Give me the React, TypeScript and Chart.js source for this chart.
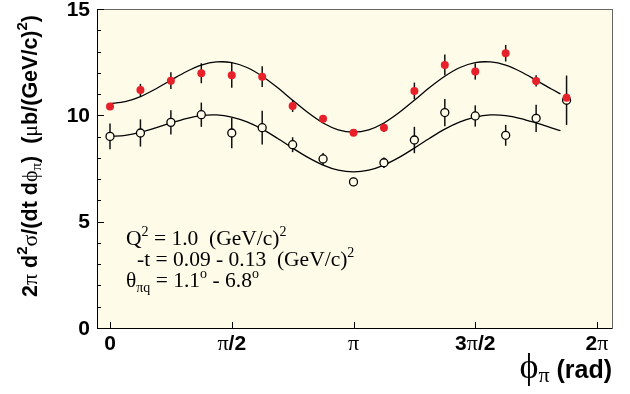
import React, { useEffect, useRef } from "react";
import { Chart, registerables } from "chart.js";

Chart.register(...registerables);

// phi in units of pi
const phiOverPi = [0, 0.125, 0.25, 0.375, 0.5, 0.625, 0.75, 0.875, 1, 1.125, 1.25, 1.375, 1.5, 1.625, 1.75, 1.875];
const redValues = [10.41, 11.19, 11.63, 11.98, 11.89, 11.82, 10.44, 9.84, 9.18, 9.42, 11.15, 12.37, 12.06, 12.92, 11.62, 10.83];
const redErrors = [0.15, 0.29, 0.39, 0.47, 0.59, 0.49, 0.28, 0.15, 0.15, 0.2, 0.39, 0.49, 0.38, 0.39, 0.27, 0.2];
const openValues = [9.01, 9.17, 9.67, 10.03, 9.17, 9.42, 8.62, 7.95, 6.87, 7.77, 8.84, 10.13, 9.97, 9.06, 9.86, 10.71];
const openErrors = [0.61, 0.64, 0.57, 0.57, 0.72, 0.79, 0.35, 0.28, 0.2, 0.25, 0.62, 0.64, 0.5, 0.49, 0.64, 1.16];

const curvePhiOverPi = [0, 0.0625, 0.125, 0.1875, 0.25, 0.3125, 0.375, 0.4375, 0.5, 0.5625, 0.625, 0.6875, 0.75, 0.8125, 0.875, 0.9375, 1, 1.0625, 1.125, 1.1875, 1.25, 1.3125, 1.375, 1.4375, 1.5, 1.5625, 1.625, 1.6875, 1.75, 1.8125, 1.85];
const upperFit = [10.55, 10.64, 10.88, 11.24, 11.65, 12.05, 12.36, 12.51, 12.48, 12.25, 11.84, 11.31, 10.71, 10.13, 9.64, 9.32, 9.21, 9.32, 9.64, 10.13, 10.71, 11.31, 11.84, 12.25, 12.48, 12.51, 12.36, 12.05, 11.65, 11.24, 11.01];
const lowerFit = [9.01, 9.06, 9.2, 9.41, 9.64, 9.85, 9.99, 10.02, 9.92, 9.69, 9.35, 8.92, 8.46, 8.02, 7.66, 7.42, 7.34, 7.42, 7.66, 8.02, 8.46, 8.92, 9.35, 9.69, 9.92, 10.02, 9.99, 9.85, 9.64, 9.41, 9.28];

const xTickValues = [0, 0.5, 1, 1.5, 2];
const xTickLabels = ["0", "π/2", "π", "3π/2", "2π"];
const yTickValues = [0, 5, 10, 15];
const yMinorStep = 1;

const CREAM = "rgb(254,251,233)";
const RED = "rgb(232,32,42)";
const SANS = "'Liberation Sans', Arial, sans-serif";
const SERIF = "'Liberation Serif', 'Times New Roman', serif";

type Run = { t: string; f: string; dy?: number };

function runsWidth(ctx: CanvasRenderingContext2D, runs: Run[]) {
  let w = 0;
  for (const r of runs) {
    ctx.font = r.f;
    w += ctx.measureText(r.t).width;
  }
  return w;
}

function drawRuns(ctx: CanvasRenderingContext2D, x: number, y: number, runs: Run[], align: "left" | "center" | "right") {
  const w = runsWidth(ctx, runs);
  let cx = align === "left" ? x : align === "center" ? x - w / 2 : x - w;
  ctx.textAlign = "left";
  ctx.textBaseline = "alphabetic";
  for (const r of runs) {
    ctx.font = r.f;
    ctx.fillText(r.t, cx, y + (r.dy || 0));
    cx += ctx.measureText(r.t).width;
  }
}

const decorPlugin = {
  id: "decor",
  beforeDatasetsDraw(chart: any) {
    const { ctx, chartArea: a, scales } = chart;
    const xs = scales.x;
    const ys = scales.y;
    ctx.save();
    ctx.fillStyle = CREAM;
    ctx.fillRect(a.left, a.top, a.right - a.left, a.bottom - a.top);
    // error bars
    ctx.strokeStyle = "#111";
    ctx.lineWidth = 1.5;
    const bars = (vals: number[], errs: number[]) => {
      vals.forEach((v, i) => {
        const px = xs.getPixelForValue(phiOverPi[i]);
        ctx.beginPath();
        ctx.moveTo(px, ys.getPixelForValue(v - errs[i]));
        ctx.lineTo(px, ys.getPixelForValue(v + errs[i]));
        ctx.stroke();
      });
    };
    bars(openValues, openErrors);
    bars(redValues, redErrors);
    ctx.restore();
  },
  afterDraw(chart: any) {
    const { ctx, chartArea: a, scales } = chart;
    const xs = scales.x;
    const ys = scales.y;
    ctx.save();
    // frame
    ctx.strokeStyle = "#666";
    ctx.lineWidth = 1;
    ctx.strokeRect(Math.round(a.left) + 0.5, Math.round(a.top) + 0.5, Math.round(a.right - a.left), Math.round(a.bottom - a.top));
    ctx.strokeStyle = "#000";
    ctx.beginPath();
    ctx.moveTo(Math.round(a.left) + 0.5, a.top);
    ctx.lineTo(Math.round(a.left) + 0.5, Math.round(a.bottom) + 0.5);
    ctx.lineTo(a.right, Math.round(a.bottom) + 0.5);
    ctx.stroke();
    // y ticks (inward)
    ctx.beginPath();
    for (let v = ys.min; v <= ys.max + 1e-9; v += yMinorStep) {
      const py = Math.round(ys.getPixelForValue(v)) + 0.5;
      const major = yTickValues.includes(v);
      ctx.moveTo(a.left, py);
      ctx.lineTo(a.left + (major ? 7 : 4), py);
    }
    // x ticks
    for (const v of xTickValues) {
      const px = Math.round(xs.getPixelForValue(v)) + 0.5;
      ctx.moveTo(px, a.bottom);
      ctx.lineTo(px, a.bottom - 6);
    }
    ctx.stroke();

    ctx.fillStyle = "#000";
    // y tick labels
    ctx.font = `bold 21px ${SANS}`;
    ctx.textAlign = "right";
    ctx.textBaseline = "middle";
    for (const v of yTickValues) {
      ctx.fillText(String(v), a.left - 7, ys.getPixelForValue(v) + 1);
    }
    // x tick labels (π in serif)
    xTickValues.forEach((v, i) => {
      const label = xTickLabels[i];
      const runs: Run[] = [];
      for (const ch of label) {
        if (ch === "π") runs.push({ t: ch, f: `22px ${SERIF}` });
        else runs.push({ t: ch, f: `bold 21px ${SANS}` });
      }
      drawRuns(ctx, xs.getPixelForValue(v), a.bottom + 22, runs, "center");
    });

    // x axis title
    drawRuns(ctx, a.right, 378, [
      { t: "ϕ", f: `36px ${SERIF}` },
      { t: "π", f: `22px ${SERIF}`, dy: 4 },
      { t: " (rad)", f: `bold 25px ${SANS}` },
    ], "right");

    // y axis title (rotated)
    ctx.save();
    ctx.translate(37, 156);
    ctx.rotate(-Math.PI / 2);
    const B = `bold 21.5px ${SANS}`;
    const S = `22px ${SERIF}`;
    drawRuns(ctx, 0, 0, [
      { t: "2", f: B },
      { t: "π", f: S },
      { t: " d", f: B },
      { t: "2", f: `bold 15px ${SANS}`, dy: -10 },
      { t: "σ", f: S },
      { t: "/(dt d", f: B },
      { t: "ϕ", f: S },
      { t: "π", f: `15px ${SERIF}`, dy: 4 },
      { t: ")  (", f: B },
      { t: "μ", f: S },
      { t: "b/(GeV/c)", f: B },
      { t: "2", f: `bold 15px ${SANS}`, dy: -10 },
      { t: ")", f: B },
    ], "center");
    ctx.restore();

    // annotation
    const T = `21.5px ${SERIF}`;
    const Tsup = `14px ${SERIF}`;
    drawRuns(ctx, 126, 245, [
      { t: "Q", f: T },
      { t: "2", f: Tsup, dy: -9 },
      { t: " = 1.0  (GeV/c)", f: T },
      { t: "2", f: Tsup, dy: -9 },
    ], "left");
    drawRuns(ctx, 137, 266, [
      { t: "-t = 0.09 - 0.13  (GeV/c)", f: T },
      { t: "2", f: Tsup, dy: -9 },
    ], "left");
    drawRuns(ctx, 126, 287, [
      { t: "θ", f: T },
      { t: "πq", f: Tsup, dy: 5 },
      { t: " = 1.1", f: T },
      { t: "o", f: Tsup, dy: -9 },
      { t: " - 6.8", f: T },
      { t: "o", f: Tsup, dy: -9 },
    ], "left");
    ctx.restore();
  },
};

export default function App() {
  const ref = useRef<HTMLCanvasElement | null>(null);
  useEffect(() => {
    if (!ref.current) return;
    const toXY = (xs: number[], ys: number[]) => xs.map((x, i) => ({ x, y: ys[i] }));
    const chart = new Chart(ref.current, {
      type: "scatter",
      data: {
        datasets: [
          {
            data: toXY(phiOverPi, redValues),
            pointRadius: 4,
            pointBackgroundColor: RED,
            pointBorderColor: RED,
            pointBorderWidth: 0,
            showLine: false,
          },
          {
            data: toXY(phiOverPi, openValues),
            pointRadius: 4,
            pointBackgroundColor: CREAM,
            pointBorderColor: "#000",
            pointBorderWidth: 1.3,
            showLine: false,
          },
          {
            data: toXY(curvePhiOverPi, upperFit),
            pointRadius: 0,
            showLine: true,
            borderColor: "#000",
            borderWidth: 1.3,
            tension: 0.3,
          },
          {
            data: toXY(curvePhiOverPi, lowerFit),
            pointRadius: 0,
            showLine: true,
            borderColor: "#000",
            borderWidth: 1.3,
            tension: 0.3,
          },
        ],
      },
      options: {
        responsive: false,
        animation: false,
        layout: { padding: { left: 97, right: 18, top: 9, bottom: 66 } },
        plugins: { legend: { display: false }, tooltip: { enabled: false } },
        scales: {
          x: { type: "linear", min: -0.0534, max: 2.0616, display: false },
          y: { type: "linear", min: 0, max: 15, display: false },
        },
      },
      plugins: [decorPlugin],
    });
    return () => chart.destroy();
  }, []);
  return (
    <div style={{ position: "absolute", left: 0, top: 0, width: 630, height: 394, background: "#fff" }}>
      <canvas ref={ref} width={630} height={394} style={{ display: "block" }} />
    </div>
  );
}
